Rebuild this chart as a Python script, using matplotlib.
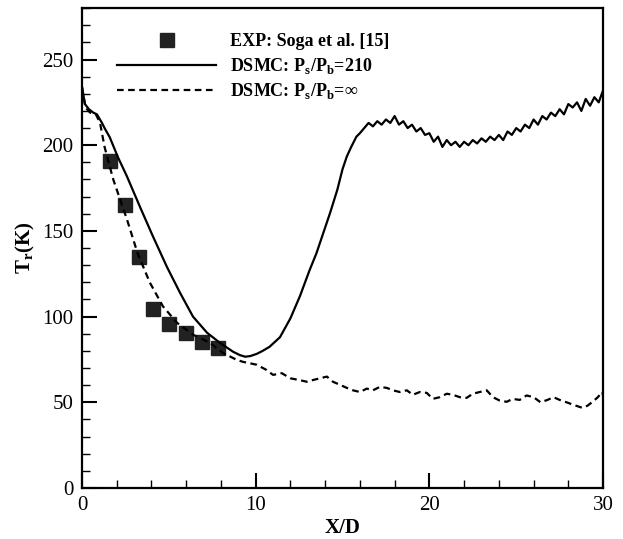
import numpy as np
import matplotlib
matplotlib.use("Agg")
import matplotlib.pyplot as plt

plt.rcParams['font.family'] = ['Liberation Serif', 'DejaVu Serif']
plt.rcParams['mathtext.fontset'] = 'custom'
plt.rcParams['mathtext.rm'] = 'Liberation Serif:bold'
plt.rcParams['mathtext.bf'] = 'Liberation Serif:bold'

# experiment (Soga et al.)
exp_x = [1.61, 2.48, 3.28, 4.09, 5.01, 5.99, 6.91, 7.83]
exp_y = [190.5, 165.4, 135.0, 104.6, 95.9, 90.6, 85.3, 81.8]

# DSMC Ps/Pb = 210
solid_x = [0, 0.17, 0.4, 0.65, 0.86, 1.15, 1.3, 1.6, 2.07, 2.58, 3.34, 4.09, 4.89, 5.64,
           6.39, 7.2, 7.94, 8.7, 9.1, 9.4, 9.7, 10.07, 10.4, 10.8, 11.4, 12.0, 12.55,
           13.1, 13.5, 13.9, 14.3, 14.7, 15.0, 15.25, 15.5, 15.8,
           16.0, 16.25, 16.5, 16.75, 17.0, 17.25, 17.5, 17.75, 18.0, 18.25, 18.5, 18.75,
           19.0, 19.25, 19.5, 19.75, 20.0, 20.25, 20.5, 20.75, 21.0, 21.25, 21.5, 21.75,
           22.0, 22.25, 22.5, 22.75, 23.0, 23.25, 23.5, 23.75, 24.0, 24.25, 24.5, 24.75,
           25.0, 25.25, 25.5, 25.75, 26.0, 26.25, 26.5, 26.75, 27.0, 27.25, 27.5, 27.75,
           28.0, 28.25, 28.5, 28.75, 29.0, 29.25, 29.5, 29.75, 30.0]
solid_y = [234, 224, 221, 219, 218, 213, 210, 204.6, 193, 182, 164, 146.7, 129, 114,
           100, 90.6, 84.7, 79.5, 77.5, 76.6, 77, 78.3, 80, 82.4, 88, 99, 112,
           127, 137, 149, 161, 174, 186, 193.5, 199, 205,
           207, 210, 213, 211, 214, 212, 215, 213, 217, 212, 214, 210,
           212, 208, 210, 206, 207, 202, 205, 199, 203, 200, 202, 199,
           202, 200, 203, 201, 204, 202, 205, 203, 206, 203, 208, 206,
           210, 208, 212, 210, 215, 212, 217, 215, 219, 217, 221, 218,
           224, 222, 225, 220, 227, 223, 228, 225, 232]

# DSMC Ps/Pb = inf
dash_x = [0, 0.2, 0.47, 0.8, 1.04, 1.3, 1.8, 2.58, 3.2, 3.9, 4.66, 5.47, 6.4, 7.37, 8.1,
          8.9, 9.27, 10.07, 10.6, 11.0, 11.5, 12.0, 12.5, 12.95, 13.3, 13.7, 14.1, 14.45,
          14.9, 15.25, 15.6, 16.0, 16.4, 16.75, 17.15, 17.55, 17.9, 18.3, 18.7, 19.05,
          19.45, 19.85, 20.2, 20.6, 21.0, 21.35, 21.75, 22.15, 22.5, 22.9, 23.3, 23.66,
          24.05, 24.45, 24.8, 25.2, 25.6, 26.0, 26.4, 26.8, 27.15, 27.5, 27.9, 28.3,
          28.8, 29.1, 29.4, 29.7, 29.95, 30]
dash_y = [234, 222, 219, 218, 213, 199, 180, 157, 137, 120, 106, 96.4, 89.4, 84.7, 78.9,
          74.8, 73.6, 71.9, 69, 66, 67, 64, 63, 62, 63, 64, 65, 62,
          60, 58.4, 57, 56, 58, 57, 59, 58.4, 57, 56, 57, 54.4,
          56, 55.5, 52, 53, 55, 54.4, 53, 52.6, 55, 56, 57, 53,
          51, 50.3, 52, 51.4, 54, 53, 50, 51.4, 53, 51.4, 50, 48.5,
          46.8, 48, 50.3, 53, 56, 54]

fig = plt.figure(figsize=(6.23, 5.39), dpi=100)
ax = fig.add_axes([0.1316, 0.0946, 0.8364, 0.8904])

ax.plot(exp_x, exp_y, 's', color='#222222', markersize=10, label='EXP: Soga et al. [15]')
ax.plot(solid_x, solid_y, '-', color='black', lw=1.6,
        label=r'DSMC: P$_\mathbf{s}$/P$_\mathbf{b}$=210')
ax.plot(dash_x, dash_y, color='black', lw=1.6, dashes=(3, 2),
        label=r'DSMC: P$_\mathbf{s}$/P$_\mathbf{b}$=∞')

ax.set_xlim(0, 30)
ax.set_ylim(0, 280)
ax.set_xticks([0, 10, 20, 30])
ax.set_xticks(np.arange(0, 31, 2), minor=True)
ax.set_yticks([0, 50, 100, 150, 200, 250])
ax.set_yticks(np.arange(0, 281, 10), minor=True)
ax.tick_params(which='major', direction='in', length=11, width=1.5, labelsize=15, pad=6)
ax.tick_params(which='minor', direction='in', length=6, width=1.0)
for s in ax.spines.values():
    s.set_linewidth(1.6)

ax.set_xlabel('X/D', fontsize=15, fontweight='bold', labelpad=2)
ax.set_ylabel(r'T$_\mathbf{r}$(K)', fontsize=15, fontweight='bold', labelpad=4)

leg = ax.legend(loc='upper left', bbox_to_anchor=(0.036, 0.981), frameon=False,
                handlelength=5.5, handletextpad=0.75, labelspacing=0.3,
                prop={'size': 13, 'weight': 'bold'})

fig.savefig('out.png', dpi=100)
